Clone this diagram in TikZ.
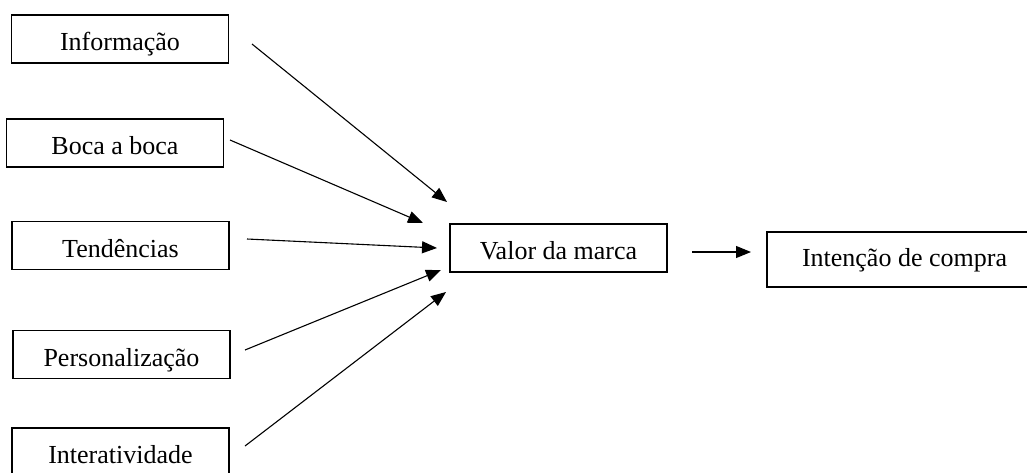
\documentclass[tikz,border=0pt]{standalone}
\usepackage{fontspec}
\setmainfont{Liberation Serif}
\usetikzlibrary{arrows.meta}
\begin{document}
\begin{tikzpicture}[x=1pt,y=-1pt,
  box/.style={draw,line width=1.1pt,inner sep=0pt,minimum width=217pt,minimum height=48pt,
    text height=23pt,text depth=0pt,font=\fontsize{26}{31}\selectfont},
  link/.style={line width=1.1pt,-{Triangle[length=15pt,width=12pt]}}]
\useasboundingbox (0,0) rectangle (1027,472);
\node[box] (info) at (120,39) {Informação};
\node[box] (boca) at (115,143) {Boca a boca};
\node[box] (tend) at (120.5,245.5) {Tendências};
\node[box] (pers) at (121.5,354.5) {Personalização};
\node[box] (inter) at (120.5,452) {Interatividade};
\node[box] (valor) at (558.5,248) {Valor da marca};
\node[box,minimum width=275pt,minimum height=55pt,text height=14.5pt] (int) at (904.5,259.5) {Intenção de compra};
\coordinate (s1) at (252,44);   \coordinate (e1) at (447,202);
\coordinate (s2) at (230,140);  \coordinate (e2) at (423,223);
\coordinate (s3) at (247,239);  \coordinate (e3) at (437,248);
\coordinate (s4) at (245,350);  \coordinate (e4) at (441,270);
\coordinate (s5) at (245,446);  \coordinate (e5) at (446,292);
\coordinate (s6) at (692,252);  \coordinate (e6) at (751,252);
\draw[link] (s1) -- (e1);
\draw[link] (s2) -- (e2);
\draw[link] (s3) -- (e3);
\draw[link] (s4) -- (e4);
\draw[link] (s5) -- (e5);
\draw[link] (s6) -- (e6);
\end{tikzpicture}
\end{document}
